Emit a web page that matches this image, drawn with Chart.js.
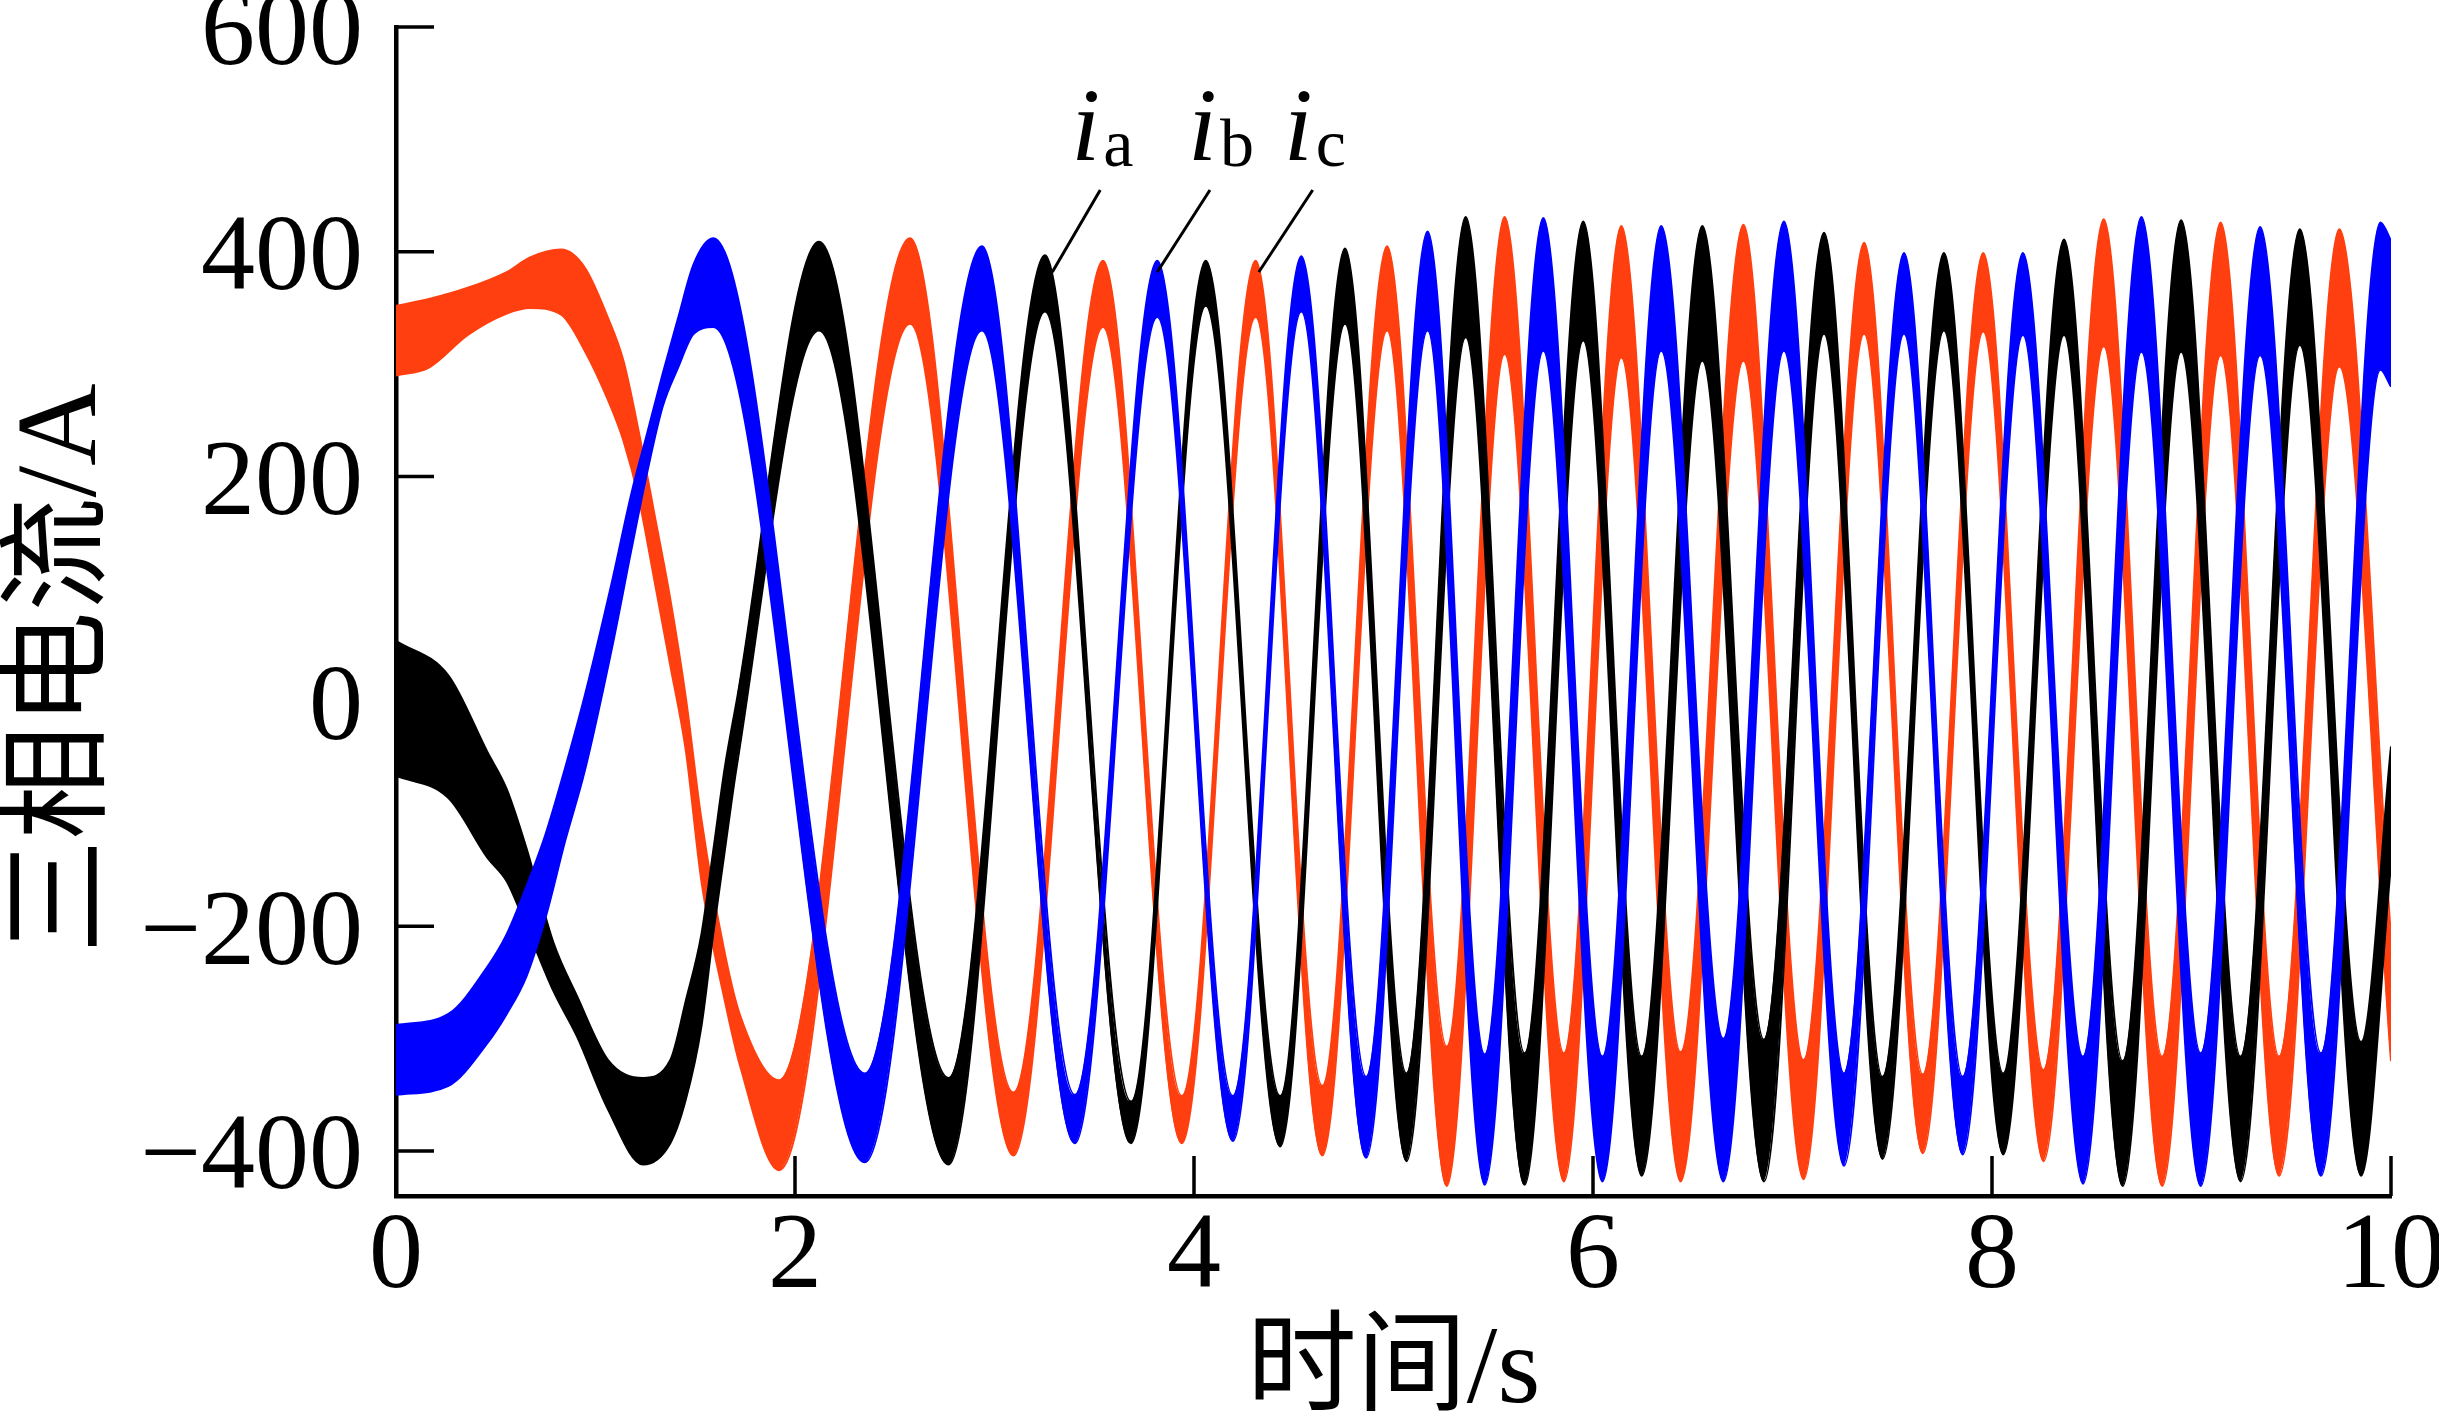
<!DOCTYPE html>
<html lang="zh">
<head>
<meta charset="utf-8">
<title>三相电流</title>
<script src="https://cdn.jsdelivr.net/npm/chart.js@4.4.1/dist/chart.umd.min.js"></script>
<style>
  html, body { margin: 0; padding: 0; background: #ffffff; }
  #currentChart { display: block; }
</style>
</head>
<body>
<canvas id="currentChart" width="2439" height="1412"></canvas>
<script>
const X_TICKS = [0, 2, 4, 6, 8, 10];
const Y_TICKS = [-400, -200, 0, 200, 400, 600];

// Each phase is a band: time, upper edge and lower edge of the trace (A)
// phase a, black
const timeA = [0, 0.263, 0.458, 0.555, 0.653, 0.79, 0.907, 1.063, 1.238, 1.375, 1.453, 1.531, 1.59, 1.648, 1.707,
  2.12, 2.77, 3.253, 3.684, 4.059, 4.432, 4.757, 5.065, 5.362, 5.657, 5.951, 6.244, 6.548, 6.857, 7.158, 7.451, 7.759, 8.056,
  8.361, 8.655, 8.948, 9.246, 9.543, 9.85, 10];
const upperA = [54, 23, -45, -78, -130, -215, -262, -319, -335, -319, -266, -207, -133, -59, 0,
  409, -335, 397, -356, 392, -351, 403, -331, 431, -313, 427, -316, 423, -301, 417, -334, 399, -331,
  411, -320, 428, -316, 420, -303, -40];
const lowerA = [-66, -86, -139, -160, -200, -258, -298, -363, -412, -393, -354, -289, -207, -133, -59,
  330, -412, 347, -393, 352, -396, 336, -409, 324, -430, 321, -422, 303, -427, 327, -407, 330, -403,
  326, -431, 311, -427, 317, -422, -145];

// phase b, blue
const timeB = [0, 0.263, 0.458, 0.555, 0.653, 0.75, 0.848, 0.946, 1.082, 1.18, 1.258, 1.336, 1.414, 1.492, 1.59,
  2.35, 2.937, 3.403, 3.816, 4.195, 4.538, 4.863, 5.171, 5.457, 5.751, 6.047, 6.342, 6.653, 6.957, 7.258,
  7.559, 7.853, 8.155, 8.456, 8.749, 9.046, 9.344, 9.649, 9.947, 10];
const upperB = [-288, -278, -236, -207, -165, -118, -59, 5, 106, 185, 238, 291, 341, 389, 412,
  -331, 405, -350, 392, -351, 396, -334, 418, -314, 430, -316, 423, -300, 427, -331,
  399, -334, 399, -316, 431, -313, 422, -313, 426, 410];
const lowerB = [-350, -342, -304, -278, -245, -192, -124, -62, 47, 135, 203, 262, 297, 327, 333,
  -410, 330, -393, 342, -391, 347, -406, 330, -430, 312, -427, 312, -427, 312, -413,
  327, -403, 326, -429, 311, -431, 308, -422, 295, 280];

// phase c, red
const timeC = [0, 0.165, 0.36, 0.555, 0.672, 0.828, 0.946, 1.063, 1.14, 1.219, 1.297, 1.375, 1.453, 1.531, 1.648, 1.726,
  1.92, 2.577, 3.095, 3.544, 3.939, 4.309, 4.643, 4.968, 5.267, 5.557, 5.854, 6.142, 6.439, 6.754, 7.055,
  7.359, 7.653, 7.956, 8.258, 8.56, 8.853, 9.146, 9.439, 9.741, 10];
const upperC = [352, 358, 368, 382, 395, 402, 386, 341, 303, 238, 165, 91, 3, -105, -224, -280,
  -337, 412, -348, 392, -351, 392, -342, 405, -307, 431, -313, 423, -312, 424, -319,
  408, -332, 399, -328, 429, -316, 426, -316, 420, -210];
const lowerC = [290, 297, 326, 345, 350, 344, 312, 268, 232, 179, 106, 32, -44, -160, -266, -325,
  -417, 336, -404, 333, -393, 342, -404, 330, -431, 309, -427, 306, -427, 303, -425,
  327, -402, 329, -409, 316, -431, 308, -422, 298, -320];

// phase labels and their leader lines, in axis units
const LABEL_NAMES = ["a", "b", "c"];
const LABEL_TIMES = [3.385, 3.97, 4.45];
const LEADER_TOP_TIMES = [3.53, 4.08, 4.595];
const LEADER_END_TIMES = [3.29, 3.816, 4.325];
const LABEL_CURRENT = 482;
const LEADER_TOP_CURRENT = 455;
const LEADER_END_CURRENT = 382;

const BLACK = "#000000";
const BLUE = "#0000ff";
const RED = "#ff3f0f";
const SERIF = '"Liberation Serif", "Times New Roman", serif';
const TITLE_FONT = '"Liberation Serif", "Noto Sans CJK SC", serif';

function toPoints(times, values) {
  return times.map((time, index) => ({ x: time, y: values[index] }));
}

function phaseBand(times, upper, lower, color) {
  const common = {
    borderColor: color,
    backgroundColor: color,
    borderWidth: 2,
    pointRadius: 0,
    cubicInterpolationMode: "monotone"
  };

  return [
    { ...common, data: toPoints(times, lower), fill: false },
    { ...common, data: toPoints(times, upper), fill: "-1" }
  ];
}

const axisDecorations = {
  id: "axisDecorations",
  afterDatasetsDraw(chart) {
    const { ctx, chartArea, scales: { x, y } } = chart;

    ctx.save();
    ctx.strokeStyle = BLACK;
    ctx.lineWidth = 3.5;
    ctx.beginPath();
    Y_TICKS.forEach((value) => {
      const py = y.getPixelForValue(value);
      ctx.moveTo(chartArea.left, py);
      ctx.lineTo(chartArea.left + 38, py);
    });
    X_TICKS.slice(1).forEach((value) => {
      const px = x.getPixelForValue(value);
      ctx.moveTo(px, chartArea.bottom);
      ctx.lineTo(px, chartArea.bottom - 40);
    });
    ctx.stroke();

    ctx.lineWidth = 3;
    ctx.beginPath();
    LABEL_NAMES.forEach((name, index) => {
      ctx.moveTo(x.getPixelForValue(LEADER_TOP_TIMES[index]), y.getPixelForValue(LEADER_TOP_CURRENT));
      ctx.lineTo(x.getPixelForValue(LEADER_END_TIMES[index]), y.getPixelForValue(LEADER_END_CURRENT));
    });
    ctx.stroke();

    ctx.fillStyle = BLACK;
    ctx.textBaseline = "alphabetic";
    ctx.textAlign = "left";
    LABEL_NAMES.forEach((name, index) => {
      const px = x.getPixelForValue(LABEL_TIMES[index]);
      const py = y.getPixelForValue(LABEL_CURRENT);
      ctx.font = `italic 104px ${SERIF}`;
      ctx.fillText("i", px, py);
      const offset = ctx.measureText("i").width + 3;
      ctx.font = `68px ${SERIF}`;
      ctx.fillText(name, px + offset, py + 6);
    });
    ctx.restore();
  }
};

function renderChart() {
  const canvas = document.getElementById("currentChart");

  new Chart(canvas, {
    type: "line",
    data: {
      datasets: [
        ...phaseBand(timeB, upperB, lowerB, BLUE),
        ...phaseBand(timeA, upperA, lowerA, BLACK),
        ...phaseBand(timeC, upperC, lowerC, RED)
      ]
    },
    options: {
      responsive: false,
      devicePixelRatio: 1,
      animation: false,
      layout: { padding: { top: 27, right: 48, bottom: 0, left: 0 } },
      plugins: {
        legend: { display: false },
        tooltip: { enabled: false }
      },
      scales: {
        x: {
          type: "linear",
          min: 0,
          max: 10,
          afterBuildTicks(scale) {
            scale.ticks = X_TICKS.map((value) => ({ value }));
          },
          afterFit(scale) {
            scale.paddingLeft = 0;
            scale.paddingRight = 0;
            scale.height = 216;
          },
          grid: { display: false, drawTicks: false },
          border: { display: true, color: BLACK, width: 4.5 },
          ticks: {
            color: BLACK,
            padding: 9,
            maxRotation: 0,
            autoSkip: false,
            font: { family: SERIF, size: 108, lineHeight: 1 },
            callback: (value) => String(value)
          },
          title: {
            display: true,
            text: "时间/s",
            color: BLACK,
            padding: 0,
            font: { family: TITLE_FONT, size: 110, lineHeight: 0.7 }
          }
        },
        y: {
          type: "linear",
          min: -440,
          max: 600,
          afterBuildTicks(scale) {
            scale.ticks = Y_TICKS.map((value) => ({ value }));
          },
          afterFit(scale) {
            scale.width = 396;
            scale.paddingTop = 0;
            scale.paddingBottom = 0;
          },
          grid: { display: false, drawTicks: false },
          border: { display: true, color: BLACK, width: 4.5 },
          ticks: {
            color: BLACK,
            padding: 33,
            labelOffset: 9,
            font: { family: SERIF, size: 108, lineHeight: 1 },
            callback: (value) => (value < 0 ? "\u2212" + Math.abs(value) : String(value))
          },
          title: {
            display: true,
            text: "三相电流/A\u3000",
            color: BLACK,
            padding: { top: 8, bottom: 0 },
            font: { family: TITLE_FONT, size: 114, lineHeight: 1 }
          }
        }
      }
    },
    plugins: [axisDecorations]
  });
}

document.addEventListener("DOMContentLoaded", renderChart);
</script>
</body>
</html>
